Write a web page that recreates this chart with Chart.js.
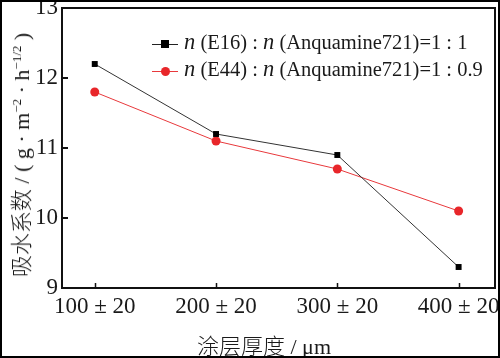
<!DOCTYPE html>
<html>
<head>
<meta charset="utf-8">
<script src="https://cdn.jsdelivr.net/npm/chart.js@4/dist/chart.umd.min.js"></script>
<style>
html, body { margin: 0; padding: 0; background: #fff; }
#wrap { position: relative; width: 500px; height: 358px; box-sizing: border-box; border: 2px solid #000; overflow: hidden; }
#myChart { position: absolute; left: -2px; top: -2px; }
.ttl { position: absolute; white-space: nowrap; color: #1a1a1a; font-family: "Liberation Serif", serif; font-size: 22px; }
.cjk { font-family: "Noto Sans CJK SC", sans-serif; font-weight: 300; }
#ytitle { left: 17px; top: 153px; transform: translate(-50%, -50%) rotate(-90deg); }
#xtitle { left: 262px; top: 342px; transform: translate(-50%, -50%); }
.legend { position: absolute; left: 150px; font-family: "Liberation Serif", serif; font-size: 20.5px; color: #1a1a1a; white-space: nowrap; }
.legend i { font-size: 22.5px; }
.legend .sym { display: inline-block; position: relative; width: 26px; height: 10px; margin-right: 6px; }
.legend .sym .ln { position: absolute; left: 0; right: 0; top: 5px; height: 1px; }
.legend .sym .mk { position: absolute; left: 9px; top: 1px; width: 8px; height: 8px; }
sup { font-size: 13px; vertical-align: 8px; line-height: 0; }
</style>
</head>
<body>
<div id="wrap">
<canvas id="myChart" width="500" height="358"></canvas>
<div id="ytitle" class="ttl"><span class="cjk">吸水系数</span> / ( g · m<sup>−2</sup> · h<sup>−1/2</sup> )</div>
<div id="xtitle" class="ttl"><span class="cjk">涂层厚度</span> / μm</div>
<div class="legend" style="top:27px"><span class="sym"><span class="ln" style="background:#222"></span><span class="mk" style="background:#000"></span></span><i>n</i> (E16) : <i>n</i> (Anquamine721)=1 : 1</div>
<div class="legend" style="top:54px"><span class="sym"><span class="ln" style="background:#e8393c"></span><span class="mk" style="background:#e8262a;border-radius:50%;left:9px;width:9px;height:9px;top:1px"></span></span><i>n</i> (E44) : <i>n</i> (Anquamine721)=1 : 0.9</div>
</div>
<script>
// thickness categories and absorption values
const thickness = [100, 200, 300, 400];
const xLabels = ['100 ± 20', '200 ± 20', '300 ± 20', '400 ± 20'];
const yTicks = [9, 10, 11, 12, 13];
const e16 = [12.2, 11.2, 10.9, 9.3];
const e44 = [11.8, 11.1, 10.7, 10.1];

const pts = (vals) => thickness.map((x, i) => ({ x: x, y: vals[i] }));

// frame + inward ticks
const frame = {
    id: 'frame',
    afterDraw(chart) {
        const ctx = chart.ctx, a = chart.chartArea;
        const xs = chart.scales.x, ys = chart.scales.y;
        ctx.save();
        ctx.strokeStyle = '#111';
        ctx.lineWidth = 2;
        ctx.strokeRect(a.left, a.top, a.right - a.left, a.bottom - a.top);
        ctx.lineWidth = 1.5;
        ctx.beginPath();
        thickness.forEach(v => {
            const px = Math.round(xs.getPixelForValue(v)) + 0.5;
            ctx.moveTo(px, a.bottom);
            ctx.lineTo(px, a.bottom - 5);
        });
        ctx.stroke();
        ctx.lineWidth = 2;
        ctx.beginPath();
        yTicks.forEach(v => {
            const py = Math.round(ys.getPixelForValue(v));
            ctx.moveTo(a.left, py);
            ctx.lineTo(a.left + 6, py);
        });
        ctx.stroke();
        ctx.restore();
    }
};

const data = {
    datasets: [{
        label: 'n (E16) : n (Anquamine721)=1 : 1',
        data: pts(e16),
        borderColor: '#333',
        backgroundColor: '#000',
        borderWidth: 1,
        pointStyle: 'rect',
        pointRadius: 4.2,
        pointBorderWidth: 0
    }, {
        label: 'n (E44) : n (Anquamine721)=1 : 0.9',
        data: pts(e44),
        borderColor: '#e8393c',
        backgroundColor: '#e8262a',
        borderWidth: 1,
        pointStyle: 'circle',
        pointRadius: 4.5,
        pointBorderWidth: 0
    }]
};

const tickFont = { family: '"Liberation Serif", serif', size: 23 };

const config = {
    type: 'line',
    data,
    options: {
        responsive: false,
        animation: false,
        layout: { padding: { left: 2, right: 5, top: 8, bottom: 0 } },
        plugins: { legend: { display: false }, tooltip: { enabled: false } },
        scales: {
            x: {
                type: 'linear',
                min: 73,
                max: 430,
                afterBuildTicks: (s) => { s.ticks = thickness.map(v => ({ value: v })); },
                afterFit: (s) => { s.height = 70; s.paddingLeft = 0; s.paddingRight = 0; },
                grid: { display: false, drawTicks: false },
                border: { display: false },
                ticks: {
                    padding: 5,
                    color: '#1a1a1a',
                    font: tickFont,
                    callback: (v) => xLabels[thickness.indexOf(v)]
                }
            },
            y: {
                min: 9,
                max: 13,
                afterBuildTicks: (s) => { s.ticks = yTicks.map(v => ({ value: v })); },
                afterFit: (s) => { s.width = 60; s.paddingTop = 0; s.paddingBottom = 0; },
                grid: { display: false, drawTicks: false },
                border: { display: false },
                ticks: {
                    padding: 4,
                    color: '#1a1a1a',
                    font: tickFont
                }
            }
        }
    },
    plugins: [frame]
};

Promise.all([
    document.fonts.load('23px "Liberation Serif"'),
    document.fonts.load('italic 23px "Liberation Serif"'),
    document.fonts.load('22px "Noto Sans CJK SC"')
]).catch(() => {}).then(() => {
    var myChart = new Chart(document.getElementById('myChart'), config);
});
</script>
</body>
</html>
